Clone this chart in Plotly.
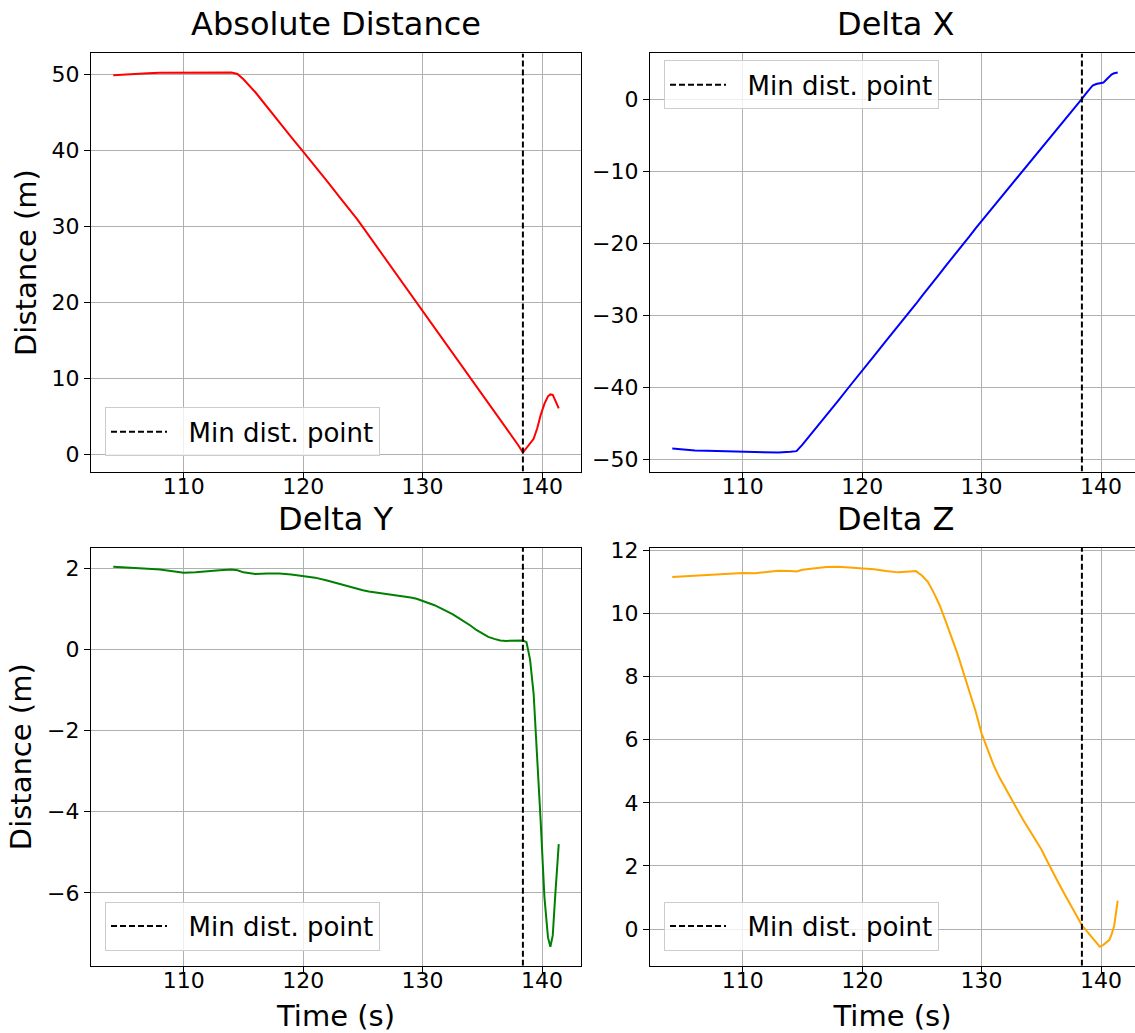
import plotly.graph_objects as go

# ---- data -------------------------------------------------------------
time_s = [
    104.1, 105, 106, 107, 108, 109, 110, 111, 112, 113, 114,
    114.5, 115, 116, 117, 118, 119, 120, 121, 122, 123, 124,
    124.5, 125, 125.5, 126, 126.5, 127, 127.5, 128, 128.5, 129, 129.5, 130,
    130.5, 131, 131.5, 132, 132.5, 133, 133.5, 134, 134.5, 135, 135.5, 136,
    136.5, 137, 137.5, 138, 138.4,
    138.7, 139.0, 139.3, 139.6, 139.9, 140.2, 140.5, 140.7, 140.9, 141.1, 141.4,
]

abs_distance_m = [
    49.85, 49.95, 50.05, 50.1, 50.15, 50.15, 50.15, 50.2, 50.2, 50.2, 50.2,
    50.0, 49.3, 47.6, 45.6, 43.6, 41.7, 39.8, 37.9, 35.9, 33.9, 32.0,
    30.95, 29.85, 28.75, 27.65, 26.55, 25.45, 24.35, 23.25, 22.15, 21.05, 19.95, 18.85,
    17.75, 16.65, 15.55, 14.45, 13.35, 12.25, 11.15, 10.05, 8.95, 7.9, 6.8, 5.7,
    4.6, 3.4, 2.3, 1.2, 0.2,
    0.8, 1.4, 2.0, 3.4, 5.2, 6.6, 7.6, 7.85, 7.8, 7.1, 6.0,
]

delta_x_m = [
    -48.45, -48.6, -48.7, -48.75, -48.8, -48.85, -48.85, -48.95, -48.9, -49.0, -48.9,
    -48.8, -47.9, -45.9, -43.8, -41.8, -39.7, -37.7, -35.6, -33.5, -31.5, -29.4,
    -28.4, -27.3, -26.3, -25.2, -24.2, -23.1, -22.1, -21.1, -20.0, -19.0, -17.9, -16.9,
    -15.9, -14.9, -13.9, -12.9, -11.9, -10.9, -9.9, -8.9, -7.9, -6.9, -5.9, -4.9,
    -3.85, -2.8, -1.75, -0.75, 0.05,
    0.7, 1.35, 1.9, 2.1, 2.15, 2.3, 2.8, 3.2, 3.45, 3.6, 3.7,
]

delta_y_m = [
    2.04, 2.03, 2.01, 1.99, 1.97, 1.93, 1.89, 1.90, 1.93, 1.95, 1.97,
    1.95, 1.90, 1.86, 1.87, 1.87, 1.85, 1.81, 1.77, 1.70, 1.62, 1.53,
    1.49, 1.46, 1.43, 1.41, 1.38, 1.36, 1.34, 1.32, 1.30, 1.28, 1.25, 1.20,
    1.15, 1.09, 1.02, 0.95, 0.87, 0.78, 0.69, 0.59, 0.48, 0.39, 0.31, 0.26,
    0.22, 0.21, 0.22, 0.22, 0.22,
    0.18, -0.25, -1.1, -2.55, -4.3, -6.1, -7.1, -7.33, -7.05, -6.1, -4.8,
]

delta_z_m = [
    11.15, 11.17, 11.2, 11.22, 11.24, 11.27, 11.28, 11.27, 11.3, 11.35, 11.34,
    11.33, 11.38, 11.43, 11.47, 11.48, 11.46, 11.44, 11.4, 11.34, 11.3, 11.33,
    11.34, 11.2, 11.0, 10.65, 10.25, 9.75, 9.25, 8.7, 8.1, 7.5, 6.9, 6.2,
    5.7, 5.2, 4.8, 4.45, 4.13, 3.78, 3.45, 3.15, 2.85, 2.53, 2.15, 1.77,
    1.42, 1.07, 0.72, 0.37, 0.12,
    -0.02, -0.16, -0.31, -0.45, -0.56, -0.5, -0.4, -0.34, -0.15, 0.1, 0.9,
]

min_dist_time_s = 138.4
x_tick_values = [110, 120, 130, 140]

panel_titles = ["Absolute Distance", "Delta X", "Delta Y", "Delta Z"]
panel_series = [abs_distance_m, delta_x_m, delta_y_m, delta_z_m]
panel_colors = ["#ff0000", "#0000ff", "#008000", "#ffa500"]
panel_ytick_step = [10, 10, 2, 2]

# ---- layout geometry (pixels) ----------------------------------------
W, H = 1135, 1033
FONT = "DejaVu Sans"
COL_X = [(91, 581), (650, 1140)]      # right column runs past the page edge
ROW_Y = [(44, 467), (544, 967)]       # top / bottom of each row
LEGEND_POS = [(105, 402), (664, 51), (105, 902), (664, 902)]
NBSP = "\u00a0"


def padded(values, frac=0.05):
    lo, hi = min(values), max(values)
    pad = (hi - lo) * frac
    return [lo - pad, hi + pad]


x_full = padded(time_s)

fig = go.Figure()
layout = dict(
    width=W, height=H,
    margin=dict(l=0, r=0, t=0, b=0),
    paper_bgcolor="white", plot_bgcolor="white",
    font=dict(family=FONT, color="black"),
    showlegend=True,
    annotations=[],
)

for i in range(4):
    row, col = divmod(i, 2)
    n = i + 1
    xa = "x" if n == 1 else f"x{n}"
    ya = "y" if n == 1 else f"y{n}"
    leg = "legend" if n == 1 else f"legend{n}"

    x0, x1 = COL_X[col]
    y0, y1 = ROW_Y[row]
    x_dom = [x0 / W, min(x1, W) / W]
    y_dom = [(H - y1) / H, (H - y0) / H]

    # visible part of the time axis (right column is cut at the page edge)
    visible = (min(x1, W) - x0) / (x1 - x0)
    x_range = [x_full[0], x_full[0] + (x_full[1] - x_full[0]) * visible]
    y_range = padded(panel_series[i])

    fig.add_trace(go.Scatter(
        x=time_s, y=panel_series[i], mode="lines",
        line=dict(color=panel_colors[i], width=2),
        xaxis=xa, yaxis=ya, showlegend=False, hoverinfo="skip",
    ))
    fig.add_trace(go.Scatter(
        x=[min_dist_time_s, min_dist_time_s], y=y_range, mode="lines",
        line=dict(color="black", width=2, dash="6px,3px"),
        name=NBSP * 2 + "Min dist. point", xaxis=xa, yaxis=ya, legend=leg,
    ))

    axis_common = dict(
        showgrid=True, gridcolor="#b0b0b0", gridwidth=1,
        zeroline=False, showline=True, linecolor="black", linewidth=1.3,
        ticks="outside", ticklen=6, tickwidth=1.3, tickcolor="black",
        tickfont=dict(size=22, family=FONT, color="black"),
    )
    xkey = "xaxis" if n == 1 else f"xaxis{n}"
    ykey = "yaxis" if n == 1 else f"yaxis{n}"
    layout[xkey] = dict(
        axis_common, domain=x_dom, range=x_range, anchor=ya,
        tickvals=x_tick_values, mirror=True, ticklabelstandoff=-11,
        title=dict(text="Time (s)" if row == 1 else "",
                   font=dict(size=29, family=FONT), standoff=19),
    )
    layout[ykey] = dict(
        axis_common, domain=y_dom, range=y_range, anchor=xa,
        tick0=0, dtick=panel_ytick_step[i], mirror=(col == 0),
        title=dict(text="Distance (m)" if col == 0 else "",
                   font=dict(size=29, family=FONT), standoff=6),
    )

    lx, ly = LEGEND_POS[i]
    layout[leg] = dict(
        x=lx / W, y=(H - ly) / H, xanchor="left", yanchor="top",
        bgcolor="rgba(255,255,255,0.8)", bordercolor="#cccccc", borderwidth=1,
        font=dict(size=26, family=FONT, color="black"), itemwidth=56,
    )

    layout["annotations"].append(dict(
        text=panel_titles[i], showarrow=False,
        x=(x0 + x1) / 2 / W, y=(H - y0) / H, xref="paper", yref="paper",
        xanchor="center", yanchor="bottom", valign="middle",
        height=30, yshift=12,
        font=dict(size=32, family=FONT, color="black"),
    ))

fig.update_layout(**layout)
fig.write_html("out.html")
